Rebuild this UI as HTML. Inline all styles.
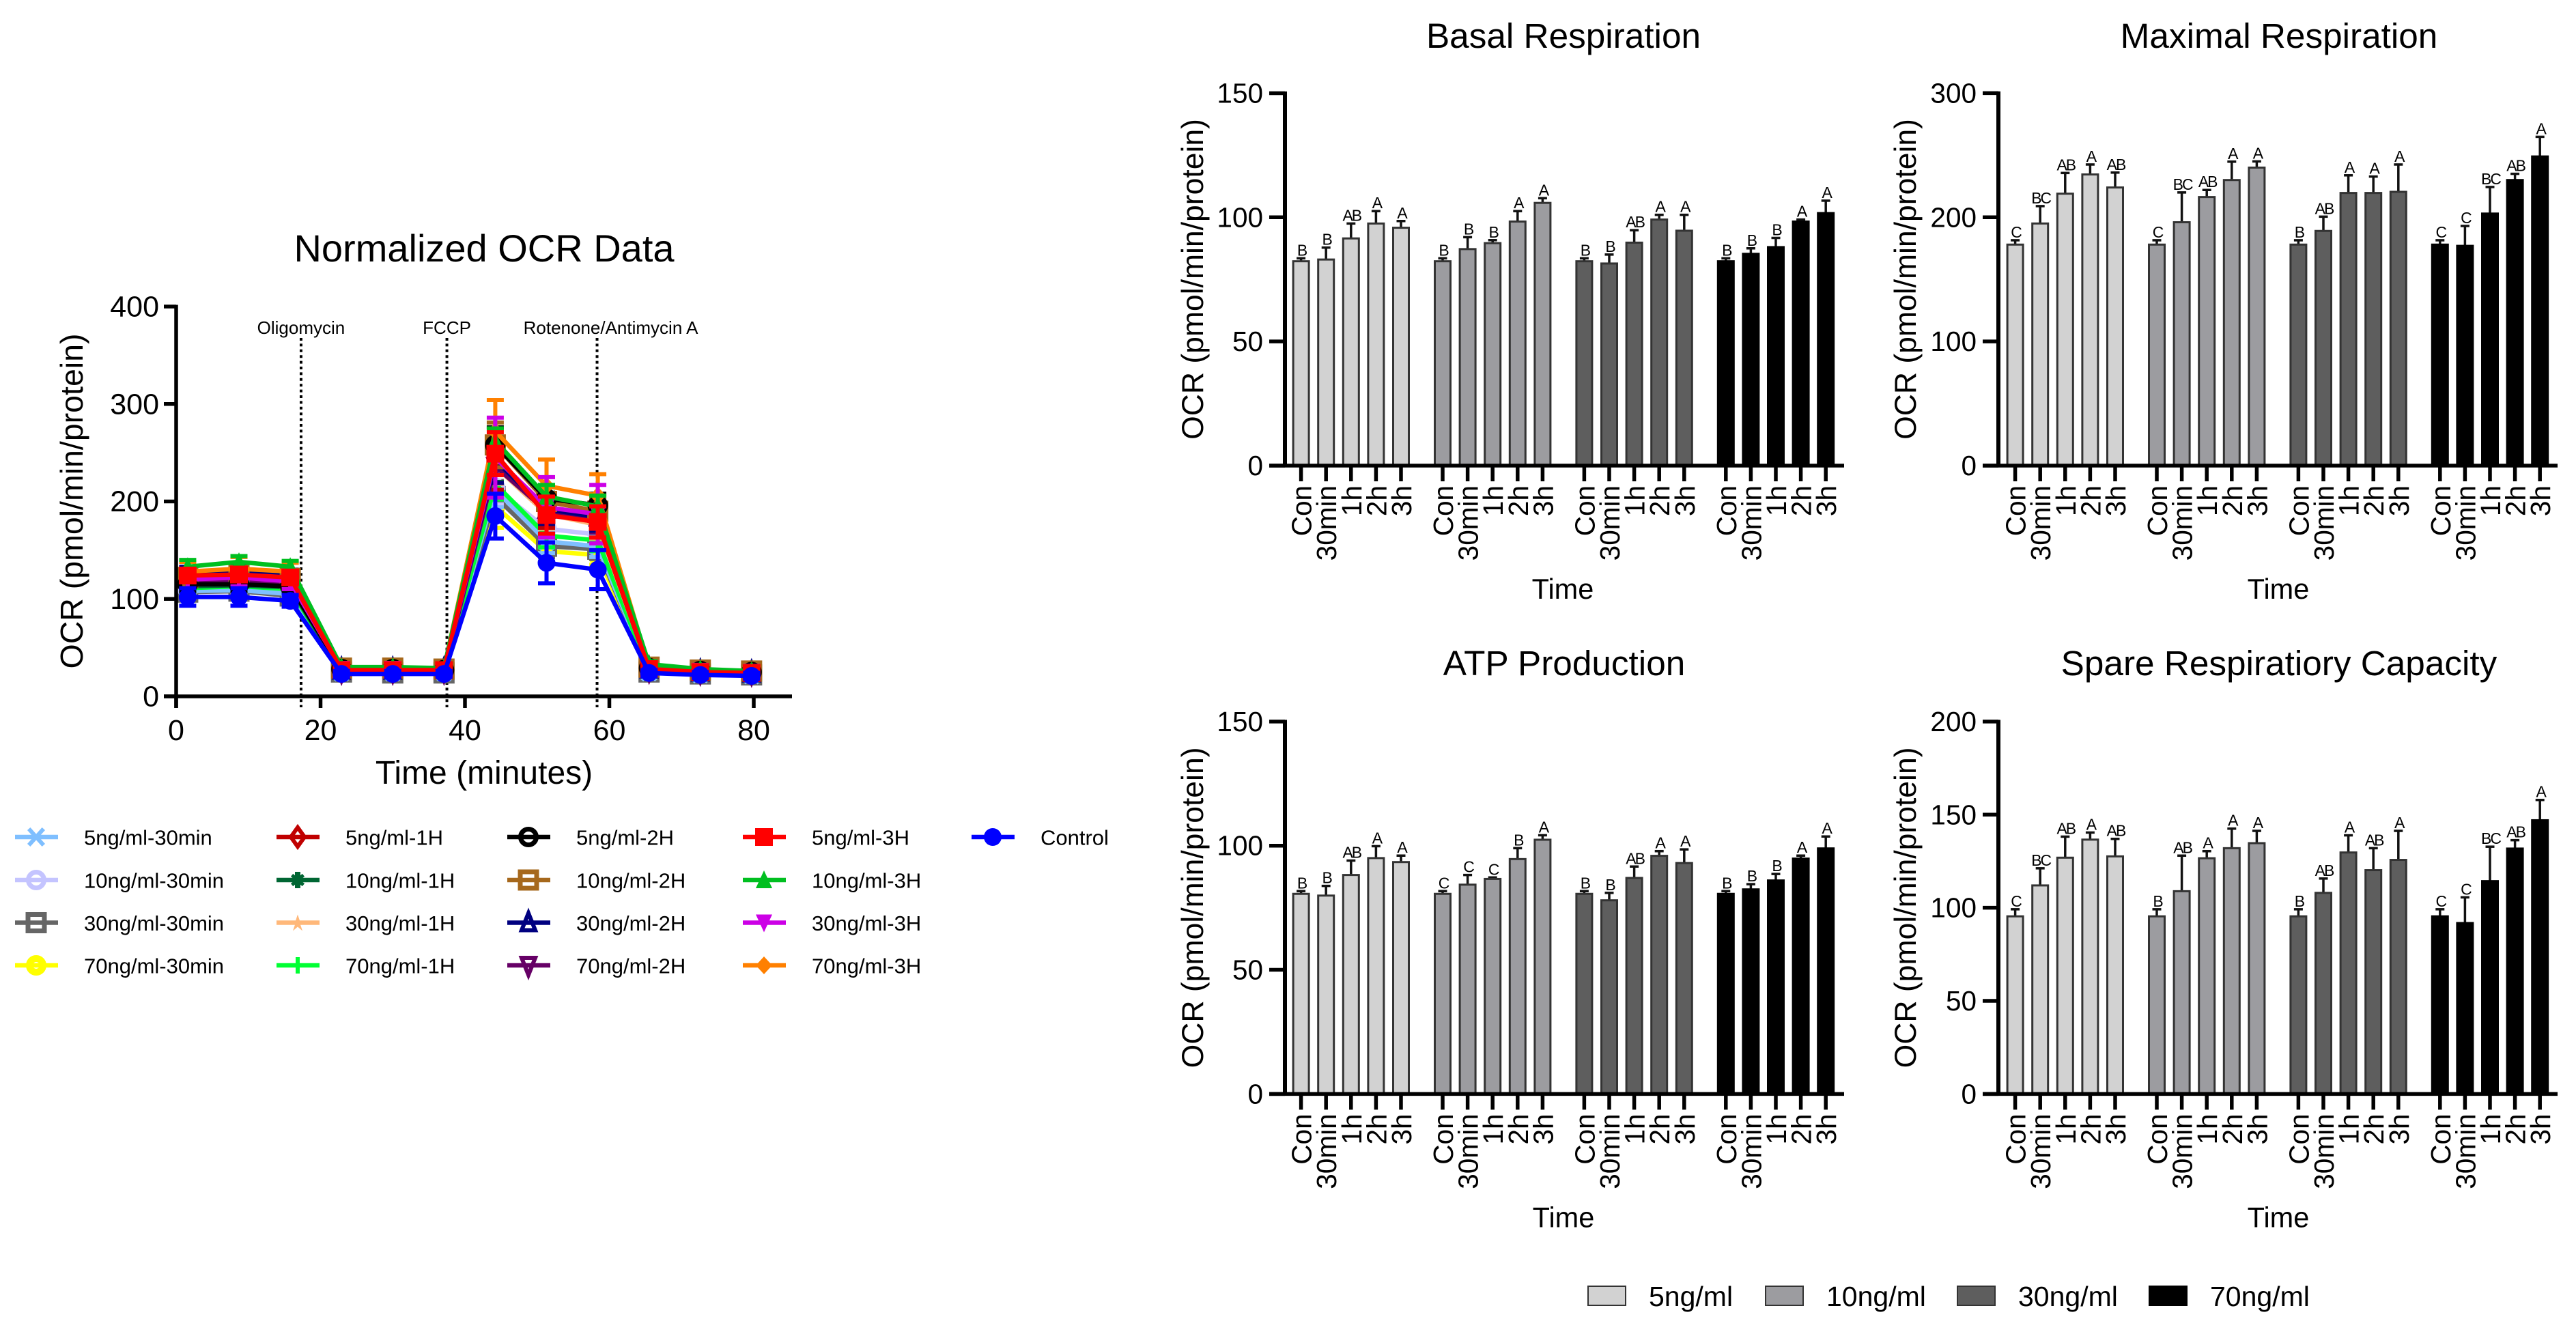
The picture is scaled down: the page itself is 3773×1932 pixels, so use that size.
<!DOCTYPE html>
<html lang="en">
<head>
<meta charset="utf-8">
<title>OCR respiration charts</title>
<style>
html,body{margin:0;padding:0;background:#fff;}
body{width:3773px;height:1932px;overflow:hidden;}
svg{display:block;}
text{font-family:"Liberation Sans",Arial,sans-serif;fill:#000;}
</style>
</head>
<body>
<svg id="root" width="3773" height="1932" viewBox="0 0 3773 1932" xmlns="http://www.w3.org/2000/svg"></svg>
<script>
/* ---------- line chart data ---------- */
const timePoints = [1.6, 8.7, 15.8, 22.9, 30, 37.1, 44.2, 51.3, 58.4, 65.5, 72.6, 79.7];
const lineXTicks = [0, 20, 40, 60, 80];
const lineYTicks = [0, 100, 200, 300, 400];
const injectionNames = ["Oligomycin", "FCCP", "Rotenone/Antimycin A"];
const injectionTimes = [17.3, 37.5, 58.3];
const seriesNames = ["5ng/ml-30min","10ng/ml-30min","30ng/ml-30min","70ng/ml-30min","5ng/ml-1H","10ng/ml-1H","30ng/ml-1H","70ng/ml-1H","5ng/ml-2H","10ng/ml-2H","30ng/ml-2H","70ng/ml-2H","5ng/ml-3H","10ng/ml-3H","30ng/ml-3H","70ng/ml-3H","Control"];
const seriesColors = ["#7fbfff","#c4c4ff","#666666","#ffff00","#c00000","#006633","#ffb87a","#00ff33","#000000","#a6681c","#000080","#660066","#ff0000","#00bf20","#cc00e6","#ff8000","#0000ff"];
const seriesMarkers = ["asterisk","circle","square","thickcircle","diamond","hexstar","star","plus","circle","square","triangle","invtriangle","fsquare","ftriangle","finvtriangle","fdiamond","fcircle"];
const values5ng30min = [108,109,105,25,25,25,212,159,154,25,23,22];
const values10ng30min = [110,112,108,26,26,25,214,172,166,26,24,23];
const values30ng30min = [107,108,103,25,24,24,205,154,151,25,23,22];
const values70ng30min = [109,110,106,25,25,25,195,149,145,25,23,22];
const values5ng1h = [118,119,116,27,27,26,238,190,178,28,25,24];
const values10ng1h = [113,114,112,26,26,26,240,195,182,27,25,24];
const values30ng1h = [120,122,118,27,27,27,236,187,176,28,25,24];
const values70ng1h = [111,113,110,25,25,25,218,165,160,26,24,23];
const values5ng2h = [115,115,113,28,28,27,258,203,196,29,26,25];
const values10ng2h = [122,124,121,29,29,28,258,200,190,30,27,26];
const values30ng2h = [126,127,124,27,27,27,242,192,184,28,25,24];
const values70ng2h = [116,118,115,26,26,26,236,190,180,27,25,24];
const values5ng3h = [124,125,122,27,27,27,249,186,179,28,25,24];
const values10ng3h = [133,138,133,30,30,29,262,205,195,33,28,26];
const values30ng3h = [120,122,118,28,28,27,245,194,187,29,26,25];
const values70ng3h = [128,131,128,29,29,28,272,216,206,30,27,26];
const valuesControl = [102,102,98,23,23,23,185,137,130,24,22,21];
const errors5ng30min = [5,5,5,3,3,3,18,12,11,3,2,2];
const errors10ng30min = [6,6,5,3,3,3,17,14,13,3,2,2];
const errors30ng30min = [5,5,5,3,3,3,16,11,10,3,2,2];
const errors70ng30min = [5,5,5,3,3,3,22,11,10,3,2,2];
const errors5ng1h = [6,6,6,3,3,3,26,17,15,3,2,2];
const errors10ng1h = [6,6,6,3,3,3,20,14,14,3,2,2];
const errors30ng1h = [6,6,6,3,3,3,18,15,14,3,2,2];
const errors70ng1h = [5,5,5,3,3,3,16,12,11,3,2,2];
const errors5ng2h = [7,7,7,3,3,3,18,13,12,3,2,2];
const errors10ng2h = [7,7,6,3,3,3,23,15,14,4,3,3];
const errors30ng2h = [7,7,6,3,3,3,23,15,14,3,2,2];
const errors70ng2h = [6,6,6,3,3,3,17,13,12,3,2,2];
const errors5ng3h = [7,7,6,4,4,4,22,19,16,3,3,3];
const errors10ng3h = [7,6,6,3,3,3,13,12,11,3,2,2];
const errors30ng3h = [9,9,8,3,3,3,41,31,30,3,3,3];
const errors70ng3h = [10,12,9,4,4,4,32,27,22,3,3,3];
const errorsControl = [9,9,6,3,3,3,23,21,20,3,3,3];
const allSeriesValues = [values5ng30min,values10ng30min,values30ng30min,values70ng30min,values5ng1h,values10ng1h,values30ng1h,values70ng1h,values5ng2h,values10ng2h,values30ng2h,values70ng2h,values5ng3h,values10ng3h,values30ng3h,values70ng3h,valuesControl];
const allSeriesErrors = [errors5ng30min,errors10ng30min,errors30ng30min,errors70ng30min,errors5ng1h,errors10ng1h,errors30ng1h,errors70ng1h,errors5ng2h,errors10ng2h,errors30ng2h,errors70ng2h,errors5ng3h,errors10ng3h,errors30ng3h,errors70ng3h,errorsControl];
const drawOrder = [3,2,1,0,7,6,5,4,11,10,9,8,15,14,13,12,16];

/* ---------- bar chart data ---------- */
const timeLabels = ["Con","30min","1h","2h","3h"];
const concentrationNames = ["5ng/ml","10ng/ml","30ng/ml","70ng/ml"];
const concentrationFills = ["#d2d2d2","#9c9ca0","#5e5e5e","#000000"];
const basalTicks = [0,50,100,150];
const basalValues = [82.3,83,91.5,97.5,95.8, 82.3,87.2,89.6,98.3,105.8, 82.3,81.4,89.8,99.1,94.6, 82.3,85.3,88,98.3,101.7];
const basalErrTops = [83.5,87.8,97.5,102.5,98.5, 83.5,92,90.8,102.5,107.7, 83.5,85,94.8,101,101, 83.5,87.5,91.7,99.1,106.7];
const basalLetters = ["B","B","AB","A","A", "B","B","B","A","A", "B","B","AB","A","A", "B","B","B","A","A"];
const maximalTicks = [0,100,200,300];
const maximalValues = [178,195,219,234.5,224, 178,196,216.3,230,240, 178,189,219.6,219.6,220.5, 178,177,203,230,249];
const maximalErrTops = [181.5,209,235.7,242.5,236, 181.5,220,222,244.8,245, 181.5,200.5,233.8,232.8,242.5, 181.5,193,224.4,235,264.8];
const maximalLetters = ["C","BC","AB","A","AB", "C","BC","AB","A","A", "B","AB","A","A","A", "C","C","BC","AB","A"];
const atpTicks = [0,50,100,150];
const atpValues = [80.6,79.9,88.2,95,93.4, 80.6,84.3,86.6,94.6,102.4, 80.6,78,87,95.9,93, 80.6,82.4,86,94.8,98.9];
const atpErrTops = [81.7,83.8,94,99.8,96, 81.7,88.2,87.2,99,104.2, 81.7,81,91.6,97.8,98.5, 81.7,84.5,88.6,96,103.7];
const atpLetters = ["B","B","AB","A","A", "C","C","C","B","A", "B","B","AB","A","A", "B","B","B","A","A"];
const spareTicks = [0,50,100,150,200];
const spareValues = [95.4,112,126.9,136.6,127.6, 95.4,108.9,126.6,132,134.7, 95.4,108,129.7,120.2,125.7, 95.4,91.8,114.3,131.8,147];
const spareErrTops = [99.2,121.2,138.2,140.4,137, 99.2,128,130.4,142.5,141.3, 99.2,115.7,138.9,132,141.3, 99.2,105.6,132.8,136.3,157.9];
const spareLetters = ["C","BC","AB","A","AB", "B","AB","A","A","A", "B","AB","A","AB","A", "C","C","BC","AB","A"];

/* ---------- drawing ---------- */
const NS = "http://www.w3.org/2000/svg";
const root = document.getElementById("root");
function make(tag, attrs, parent, content) {
  const node = document.createElementNS(NS, tag);
  for (const k in attrs) node.setAttribute(k, attrs[k]);
  if (content !== undefined) node.textContent = content;
  parent.appendChild(node);
  return node;
}

/* axis functions for the line chart */
function lineX(t) { return 258 + t * 10.575; }
function lineY(v) { return 1020 - v * 1.4275; }

function drawMarker(parent, type, cx, cy, color) {
  const r = 12, sw = 6;
  const open = {fill:"none", stroke:color, "stroke-width":sw};
  const solid = {fill:color, stroke:"none"};
  const poly = function (pts, style) {
    make("polygon", Object.assign({points: pts.map(function (p) { return (cx + p[0]) + "," + (cy + p[1]); }).join(" ")}, style), parent);
  };
  const seg = function (x1, y1, x2, y2, w) {
    make("line", {x1:cx + x1, y1:cy + y1, x2:cx + x2, y2:cy + y2, stroke:color, "stroke-width":w}, parent);
  };
  if (type === "circle") make("circle", {cx:cx, cy:cy, r:11.5, fill:"none", stroke:color, "stroke-width":7}, parent);
  else if (type === "thickcircle") make("circle", {cx:cx, cy:cy, r:10, fill:"none", stroke:color, "stroke-width":10}, parent);
  else if (type === "fcircle") make("circle", Object.assign({cx:cx, cy:cy, r:r + 1}, solid), parent);
  else if (type === "square") make("rect", {x:cx - 12, y:cy - 12, width:24, height:24, fill:"none", stroke:color, "stroke-width":7}, parent);
  else if (type === "fsquare") make("rect", Object.assign({x:cx - 13, y:cy - 13, width:26, height:26}, solid), parent);
  else if (type === "diamond") poly([[0,-r - 2],[r - 2,0],[0,r + 2],[-r + 2,0]], open);
  else if (type === "fdiamond") poly([[0,-r - 1],[r,0],[0,r + 1],[-r,0]], solid);
  else if (type === "triangle") poly([[0,-r - 2],[r - 2,r - 1],[-r + 2,r - 1]], open);
  else if (type === "ftriangle") poly([[0,-r - 2],[r,r],[-r,r]], solid);
  else if (type === "invtriangle") poly([[0,r + 2],[r - 2,-r + 1],[-r + 2,-r + 1]], open);
  else if (type === "finvtriangle") poly([[0,r + 2],[r,-r],[-r,-r]], solid);
  else if (type === "plus") { seg(-r, 0, r, 0, sw); seg(0, -r, 0, r, sw); }
  else if (type === "asterisk") { seg(-r, 0, r, 0, sw); seg(-r * 0.9, -r, r * 0.9, r, sw); seg(-r * 0.9, r, r * 0.9, -r, sw); }
  else if (type === "hexstar") { seg(0, -r, 0, r, sw + 2); seg(-r * 0.7, -r * 0.6, r * 0.7, r * 0.6, sw - 1); seg(-r * 0.7, r * 0.6, r * 0.7, -r * 0.6, sw - 1); }
  else if (type === "star") poly([[0,-r],[3,-3],[r,-3],[4,3],[7,r],[0,6],[-7,r],[-4,3],[-r,-3],[-3,-3]], solid);
}

function drawLineChart() {
  const g = make("g", {}, root);
  
  

  const title = make("text", {x:709, y:383, "font-size":56, "text-anchor":"middle"}, g, "Normalized OCR Data");
  
  

  injectionTimes.forEach(function (t, i) {
    const dot = make("line", {x1:lineX(t), x2:lineX(t), y1:495, y2:1036, stroke:"#000", "stroke-width":4, "stroke-dasharray":"4 4.4"}, g);
    
    
    const lbl = make("text", {x:lineX(t) + [0, 0, 20][i], y:489, "font-size":26, "text-anchor":"middle"}, g, injectionNames[i]);
    
    
  });

  drawOrder.forEach(function (idx) {
    const vals = allSeriesValues[idx], errs = allSeriesErrors[idx], color = seriesColors[idx];
    const sg = make("g", {}, g);
    
    
    const pts = timePoints.map(function (t, i) { return lineX(t) + "," + lineY(vals[i]); }).join(" ");
    make("polyline", {points:pts, fill:"none", stroke:color, "stroke-width":6.5, "stroke-linejoin":"round"}, sg);
    timePoints.forEach(function (t, i) {
      const x = lineX(t), hi = lineY(vals[i] + errs[i]), lo = lineY(vals[i] - errs[i]);
      make("line", {x1:x, x2:x, y1:hi, y2:lo, stroke:color, "stroke-width":6}, sg);
      make("line", {x1:x - 12.5, x2:x + 12.5, y1:hi, y2:hi, stroke:color, "stroke-width":6}, sg);
      make("line", {x1:x - 12.5, x2:x + 12.5, y1:lo, y2:lo, stroke:color, "stroke-width":6}, sg);
      drawMarker(sg, seriesMarkers[idx], x, lineY(vals[i]), color);
    });
  });

  const yAxis = make("line", {x1:258, x2:258, y1:lineY(400) - 2.5, y2:1037, stroke:"#000", "stroke-width":5.5}, g);
  
  
  const xAxis = make("line", {x1:240, x2:1160, y1:1020, y2:1020, stroke:"#000", "stroke-width":5.5}, g);
  
  
  lineYTicks.forEach(function (v) {
    make("line", {x1:240, x2:258, y1:lineY(v), y2:lineY(v), stroke:"#000", "stroke-width":5.5}, g);
    const t = make("text", {x:233, y:lineY(v) + 14.5, "font-size":43, "text-anchor":"end"}, g, String(v));
    
    
  });
  lineXTicks.forEach(function (v) {
    make("line", {x1:lineX(v), x2:lineX(v), y1:1020, y2:1037, stroke:"#000", "stroke-width":5.5}, g);
    const t = make("text", {x:lineX(v), y:1084, "font-size":43, "text-anchor":"middle"}, g, String(v));
    
    
  });
  const yt = make("text", {x:0, y:0, "font-size":46.5, "text-anchor":"middle", transform:"translate(121 734) rotate(-90)"}, g, "OCR (pmol/min/protein)");
  
  
  const xt = make("text", {x:709, y:1148, "font-size":48, "text-anchor":"middle"}, g, "Time (minutes)");
  
  
}

function drawLineLegend() {
  const g = make("g", {}, root);
  
  
  const colX = [53, 436, 774, 1119, 1454];
  const rowY = [1226, 1289, 1351.5, 1414];
  seriesNames.forEach(function (name, i) {
    const col = Math.floor(i / 4), row = i % 4;
    const cx = colX[col], cy = rowY[row];
    const e = make("g", {}, g);
    
    
    make("line", {x1:cx - 31, x2:cx + 32, y1:cy, y2:cy, stroke:seriesColors[i], "stroke-width":6.5}, e);
    drawMarker(e, seriesMarkers[i], cx, cy, seriesColors[i]);
    make("text", {x:cx + 70, y:cy + 11.5, "font-size":31}, e, name);
  });
}

function drawBarPanel(p) {
  const g = make("g", {}, root);
  
  
  /* axis functions */
  const yOf = function (v) { return p.y0 - v * p.scale; };
  const xOf = function (i) { return p.firstBar + i * 36.6 + Math.floor(i / 5) * 24.4; };

  const title = make("text", {x:p.titleX, y:p.titleY, "font-size":51.3, "text-anchor":"middle"}, g, p.title);
  
  

  p.values.forEach(function (v, i) {
    const group = Math.floor(i / 5);
    const x = xOf(i), top = yOf(v), errTop = yOf(p.errTops[i]);
    const err = make("line", {x1:x, x2:x, y1:errTop, y2:top, stroke:"#111", "stroke-width":3.5}, g);
    
    
    make("line", {x1:x - 6.5, x2:x + 6.5, y1:errTop, y2:errTop, stroke:"#111", "stroke-width":3.5}, g);
    const bar = make("rect", {x:x - 11.5, y:top, width:23, height:p.y0 - top, fill:concentrationFills[group], stroke:group === 3 ? "#000" : "#333", "stroke-width":3}, g);
    
    
    const letter = make("text", {x:x + 1, y:errTop - 4, "font-size":23, "text-anchor":"middle", "letter-spacing":"-2"}, g, p.letters[i]);
    
    
    make("line", {x1:x, x2:x, y1:p.y0, y2:p.y0 + 23, stroke:"#000", "stroke-width":5.5}, g);
    const label = make("text", {x:0, y:0, "font-size":40.5, "text-anchor":"end", transform:"translate(" + (x + 15) + " " + (p.y0 + 29) + ") rotate(-90)"}, g, timeLabels[i % 5]);
    
    
  });

  const yAxis = make("line", {x1:p.axisX, x2:p.axisX, y1:yOf(p.ticks[p.ticks.length - 1]) - 2.5, y2:p.y0, stroke:"#000", "stroke-width":6}, g);
  
  
  const xAxis = make("line", {x1:p.axisX - 23, x2:p.axisEnd, y1:p.y0, y2:p.y0, stroke:"#000", "stroke-width":5.5}, g);
  
  
  p.ticks.forEach(function (v) {
    make("line", {x1:p.axisX - 23, x2:p.axisX, y1:yOf(v), y2:yOf(v), stroke:"#000", "stroke-width":5.5}, g);
    const t = make("text", {x:p.axisX - 32, y:yOf(v) + 14, "font-size":40.5, "text-anchor":"end"}, g, String(v));
    
    
  });
  const yt = make("text", {x:0, y:0, "font-size":44.5, "text-anchor":"middle", transform:"translate(" + p.yTitleX + " " + (p.y0 - 273) + ") rotate(-90)"}, g, "OCR (pmol/min/protein)");
  
  
  const xt = make("text", {x:p.titleX - 1, y:p.y0 + 195, "font-size":41.5, "text-anchor":"middle"}, g, "Time");
  
  
}

function drawBarLegend() {
  const g = make("g", {}, root);
  
  
  const swatchX = [2326, 2586, 2867, 3148];
  concentrationNames.forEach(function (name, i) {
    const e = make("g", {}, g);
    
    
    make("rect", {x:swatchX[i], y:1884, width:55, height:28, fill:concentrationFills[i], stroke:i === 3 ? "#000" : "#333", "stroke-width":2}, e);
    make("text", {x:swatchX[i] + 89, y:1913, "font-size":41}, e, name);
  });
}

drawLineChart();
drawLineLegend();
drawBarPanel({id:"basal", title:"Basal Respiration", titleX:2290, titleY:70, y0:682, scale:3.637, axisX:1882, axisEnd:2701, firstBar:1905.6, yTitleX:1762, ticks:basalTicks, values:basalValues, errTops:basalErrTops, letters:basalLetters});
drawBarPanel({id:"maximal", title:"Maximal Respiration", titleX:3338, titleY:70, y0:682, scale:1.8187, axisX:2927, axisEnd:3746, firstBar:2951.6, yTitleX:2806, ticks:maximalTicks, values:maximalValues, errTops:maximalErrTops, letters:maximalLetters});
drawBarPanel({id:"atp", title:"ATP Production", titleX:2291, titleY:989, y0:1602.4, scale:3.637, axisX:1882, axisEnd:2701, firstBar:1905.6, yTitleX:1762, ticks:atpTicks, values:atpValues, errTops:atpErrTops, letters:atpLetters});
drawBarPanel({id:"spare", title:"Spare Respiratiory Capacity", titleX:3338, titleY:989, y0:1602.4, scale:2.7275, axisX:2927, axisEnd:3746, firstBar:2951.6, yTitleX:2806, ticks:spareTicks, values:spareValues, errTops:spareErrTops, letters:spareLetters});
drawBarLegend();
</script>
</body>
</html>
